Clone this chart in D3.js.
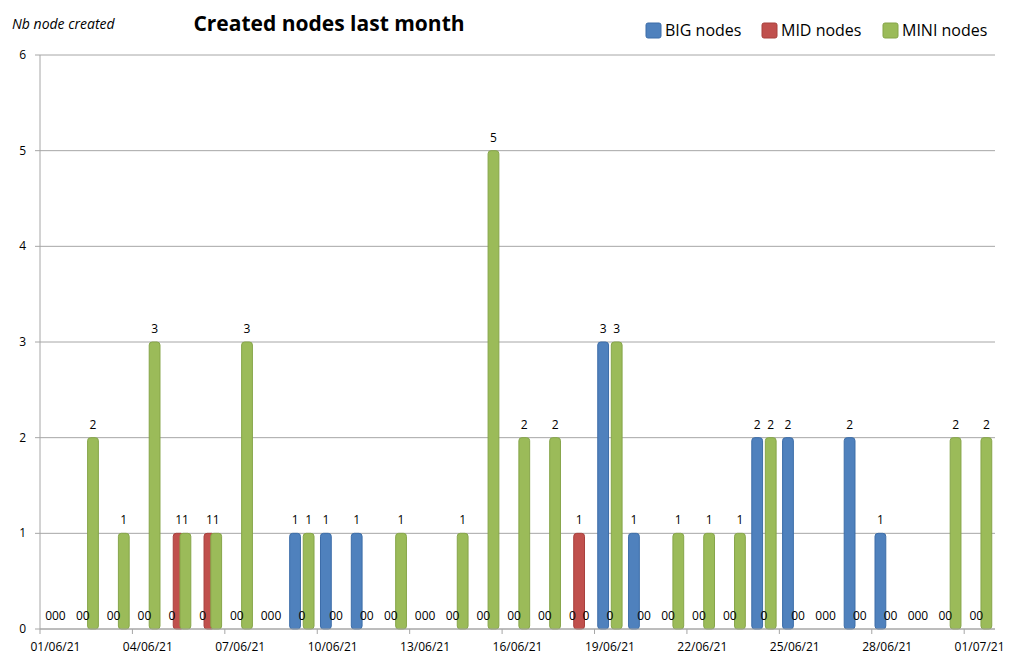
<!DOCTYPE html>
<html>
<head>
<meta charset="utf-8">
<script src="https://cdn.jsdelivr.net/npm/d3@7"></script>
<style>
  body { margin: 0; background: #fff; }
  svg text { font-family: "Open Sans", "Liberation Sans", sans-serif; fill: #000; }
</style>
</head>
<body>
<div id="chart"></div>
<script>
// Days of the month (01/06/21 .. 01/07/21)
const days = [
  '01/06/21', '02/06/21', '03/06/21', '04/06/21', '05/06/21', '06/06/21', '07/06/21',
  '08/06/21', '09/06/21', '10/06/21', '11/06/21', '12/06/21', '13/06/21', '14/06/21',
  '15/06/21', '16/06/21', '17/06/21', '18/06/21', '19/06/21', '20/06/21', '21/06/21',
  '22/06/21', '23/06/21', '24/06/21', '25/06/21', '26/06/21', '27/06/21', '28/06/21',
  '29/06/21', '30/06/21', '01/07/21'
];
const bigNodes  = [0, 0, 0, 0, 0, 0, 0, 0, 1, 1, 1, 0, 0, 0, 0, 0, 0, 0, 3, 1, 0, 0, 0, 2, 2, 0, 2, 1, 0, 0, 0];
const midNodes  = [0, 0, 0, 0, 1, 1, 0, 0, 0, 0, 0, 0, 0, 0, 0, 0, 0, 1, 0, 0, 0, 0, 0, 0, 0, 0, 0, 0, 0, 0, 0];
const miniNodes = [0, 2, 1, 3, 1, 1, 3, 0, 1, 0, 0, 1, 0, 1, 5, 2, 2, 0, 3, 0, 1, 1, 1, 2, 0, 0, 0, 0, 0, 2, 2];
const seriesNames = ['BIG nodes', 'MID nodes', 'MINI nodes'];
const yTicks = [0, 1, 2, 3, 4, 5, 6];

const colors = ['#4f81bd', '#c0504d', '#9bbb59'];
const strokes = ['#3c6da8', '#a8403d', '#86a549'];

const width = 1024, height = 662;
const svg = d3.select('#chart').append('svg')
  .attr('width', width)
  .attr('height', height);

const x = d3.scaleBand().domain(days).range([40, 995]).paddingInner(0).paddingOuter(0);
const y = d3.scaleLinear().domain([0, 6]).range([629, 55]);
const bw = x.bandwidth();

// gridlines
svg.append('g').selectAll('line')
  .data(yTicks)
  .enter().append('line')
  .attr('x1', 35).attr('x2', 995)
  .attr('y1', d => y(d)).attr('y2', d => y(d))
  .attr('stroke', '#a6a6a6').attr('stroke-width', 1);

// y axis
svg.append('line')
  .attr('x1', 40).attr('x2', 40).attr('y1', y(6)).attr('y2', y(0))
  .attr('stroke', '#a6a6a6');
svg.append('g').selectAll('text')
  .data(yTicks)
  .enter().append('text')
  .attr('x', 26).attr('y', d => y(d) + 4)
  .attr('text-anchor', 'end')
  .attr('font-size', 12)
  .text(d => d);

// x axis: ticks at category boundaries, labels every 3 days
const labelDays = days.filter((d, i) => i % 3 === 0);
svg.append('g').selectAll('line')
  .data(labelDays)
  .enter().append('line')
  .attr('x1', d => x(d)).attr('x2', d => x(d))
  .attr('y1', y(0)).attr('y2', y(0) + 5)
  .attr('stroke', '#a6a6a6');
svg.append('g').selectAll('text')
  .data(labelDays)
  .enter().append('text')
  .attr('x', d => x(d) + bw / 2)
  .attr('y', 651)
  .attr('text-anchor', 'middle')
  .attr('font-size', 12)
  .text(d => d);

// bars first, then all data labels on top
const allSeries = [bigNodes, midNodes, miniNodes];
const barW = bw * 0.35;
const offsets = [0, 1, 2].map(k => bw / 2 + (k - 1) * bw * 0.22);
const barsG = svg.append('g');
const labelsG = svg.append('g');
allSeries.forEach(function (values, k) {
  const rows = values.map((v, i) => ({ day: days[i], v: v }));
  barsG.append('g').selectAll('rect')
    .data(rows.filter(d => d.v > 0))
    .enter().append('rect')
    .attr('x', d => x(d.day) + offsets[k] - barW / 2)
    .attr('width', barW)
    .attr('y', d => y(d.v))
    .attr('height', d => y(0) - y(d.v))
    .attr('rx', 3)
    .attr('fill', colors[k])
    .attr('stroke', strokes[k])
    .attr('stroke-width', 1);
  labelsG.append('g').selectAll('text')
    .data(rows)
    .enter().append('text')
    .attr('x', d => x(d.day) + offsets[k])
    .attr('y', d => y(d.v) - 9)
    .attr('text-anchor', 'middle')
    .attr('font-size', 12)
    .text(d => d.v);
});

// x axis line on top of bars
svg.append('line')
  .attr('x1', 40).attr('x2', 995).attr('y1', y(0)).attr('y2', y(0))
  .attr('stroke', '#a6a6a6');

// titles
svg.append('text')
  .attr('x', 12).attr('y', 29)
  .attr('font-size', 14).attr('font-style', 'italic')
  .text('Nb node created');
svg.append('text')
  .attr('x', 329).attr('y', 31)
  .attr('text-anchor', 'middle')
  .attr('font-size', 21).attr('font-weight', 'bold')
  .text('Created nodes last month');

// legend
const legendX = [646, 762, 883];
const legend = svg.append('g');
seriesNames.forEach(function (name, k) {
  legend.append('rect')
    .attr('x', legendX[k]).attr('y', 23)
    .attr('width', 15).attr('height', 15)
    .attr('rx', 2)
    .attr('fill', colors[k]).attr('stroke', strokes[k]);
  legend.append('text')
    .attr('x', legendX[k] + 19).attr('y', 36)
    .attr('font-size', 16)
    .text(name);
});
</script>
</body>
</html>
